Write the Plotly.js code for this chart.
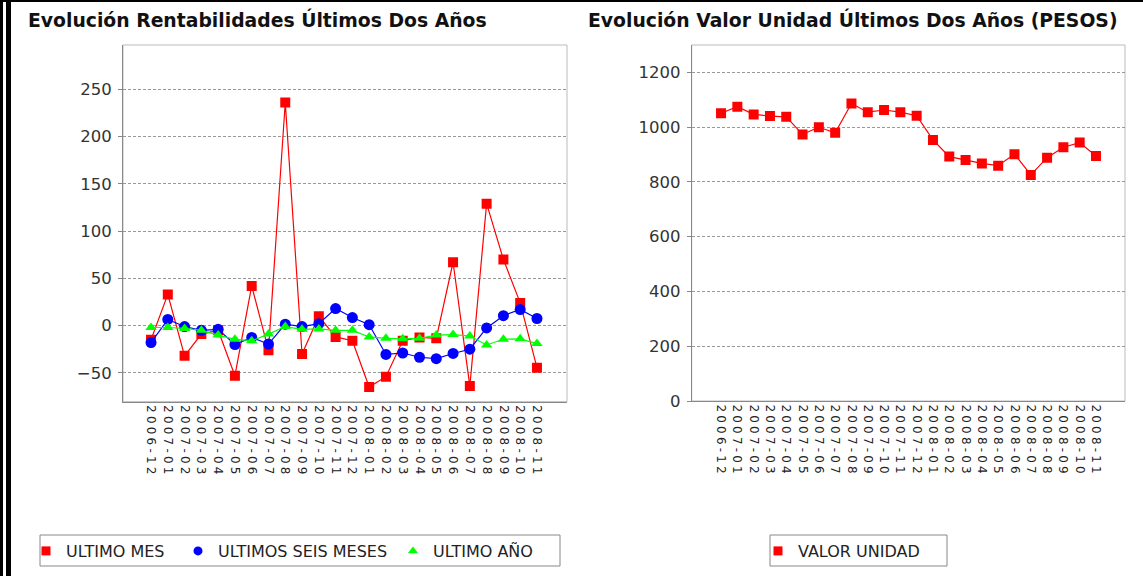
<!DOCTYPE html>
<html><head><meta charset="utf-8">
<script src="https://cdn.plot.ly/plotly-3.0.1.min.js"></script>
<style>
html,body{margin:0;padding:0;background:#fff;}
#wrap{position:relative;width:1143px;height:576px;overflow:hidden;background:#fff;}
#chart{position:absolute;left:0;top:0;width:1143px;height:576px;}
.bar{position:absolute;background:#000;}
</style>
</head><body>
<div id="wrap">
<div id="chart"></div>
<div class="bar" style="left:0;top:0;width:1143px;height:2px"></div>
<div class="bar" style="left:0;top:0;width:3px;height:576px"></div>
<div class="bar" style="left:6px;top:0;width:5px;height:576px"></div>
</div>
<script>
const months = ['2006-12','2007-01','2007-02','2007-03','2007-04','2007-05','2007-06','2007-07','2007-08','2007-09','2007-10','2007-11','2007-12','2008-01','2008-02','2008-03','2008-04','2008-05','2008-06','2008-07','2008-08','2008-09','2008-10','2008-11'];
const ultimoMes = [-15, 33, -32, -9, -5, -53, 42, -26, 236, -30, 10, -12, -16, -65, -54, -16, -12.5, -13.5, 67, -64, 129, 70, 24, -44.5];
const ultimosSeisMeses = [-18, 6.5, -1, -5, -4, -20, -12.5, -19.5, 1.5, -1, 2, 18, 8.5, 1, -30.5, -29, -33.5, -35, -29.5, -25, -2.5, 10.5, 17, 7.5];
const ultimoAno = [-2, -2, -3, -5, -10, -14.5, -16, -9, -1, -4, -3.5, -5, -5, -12, -13.5, -14, -13.5, -10, -9.5, -11, -20.5, -14.5, -14, -19];
const valorUnidad = [1050, 1074, 1046, 1040, 1037, 973, 999, 979, 1086, 1054, 1062, 1054, 1041, 953, 892, 880, 867, 859, 901, 825, 888, 926, 943, 894];
const leftTicks = [-50, 0, 50, 100, 150, 200, 250];
const rightTicks = [0, 200, 400, 600, 800, 1000, 1200];
const titleLeft = 'Evolución Rentabilidades Últimos Dos Años';
const titleRight = 'Evolución Valor Unidad Últimos Dos Años (PESOS)';
const namesLeft = ['ULTIMO MES', 'ULTIMOS SEIS MESES', 'ULTIMO AÑO'];
const nameRight = 'VALOR UNIDAD';

const W = 1143, H = 576;
const FONT = 'DejaVu Sans, Verdana, sans-serif';
const px = v => v / W, py = v => 1 - v / H;

const RED = '#ff0000', BLUE = '#0000ff', GREEN = '#00ff00';
function series(y, name, color, symbol, size, xa, ya, legend) {
  return [{
    x: months, y: y, type: 'scatter', mode: 'lines+markers', name: name,
    xaxis: xa, yaxis: ya, showlegend: false,
    line: {color: color, width: 1.2},
    marker: {color: color, symbol: symbol, size: size, line: {width: 0}}
  }, {
    x: [null], y: [null], type: 'scatter', mode: 'markers', name: name,
    xaxis: xa, yaxis: ya, showlegend: true, legend: legend,
    marker: {color: color, symbol: symbol, size: 9}
  }];
}
const traces = [].concat(
  series(ultimoMes, namesLeft[0], RED, 'square', 10, 'x', 'y', 'legend'),
  series(ultimosSeisMeses, namesLeft[1], BLUE, 'circle', 11, 'x', 'y', 'legend2'),
  series(ultimoAno, namesLeft[2], GREEN, 'triangle-up', 10, 'x', 'y', 'legend3'),
  series(valorUnidad, nameRight, RED, 'square', 10, 'x2', 'y2', 'legend4')
);

const topY = 45;
const xCommon = {
  type: 'category', showgrid: false, zeroline: false, showline: true,
  linecolor: '#888', linewidth: 1, ticks: '', tickangle: 90,
  tickfont: {family: FONT, size: 12, color: '#222'}, fixedrange: true
};
const yCommon = {
  showgrid: true, gridcolor: '#999', griddash: '3px,2px', gridwidth: 1,
  zeroline: false, showline: true, linecolor: '#888', linewidth: 1,
  ticks: 'outside', ticklen: 4, tickcolor: '#888', ticklabelstandoff: 3,
  tickfont: {family: FONT, size: 16.5, color: '#333'}, fixedrange: true
};
function leg(x) {
  return {orientation: 'h', x: px(x), y: py(551), xanchor: 'left', yanchor: 'middle',
    borderwidth: 0, bgcolor: 'rgba(0,0,0,0)',
    font: {family: FONT, size: 16, color: '#222'}, itemwidth: 30};
}

const layout = {
  width: W, height: H, margin: {l: 0, r: 0, t: 0, b: 0},
  paper_bgcolor: '#fff', plot_bgcolor: '#fff',
  font: {family: FONT, color: '#222'},
  xaxis: Object.assign({}, xCommon, {domain: [px(123), px(567)], range: [-1.67, 24.79], anchor: 'y'}),
  yaxis: Object.assign({}, yCommon, {domain: [py(401.7), py(topY)], range: [-80.5, 250 + (89.3 - topY) / 0.947], tickvals: leftTicks, anchor: 'x'}),
  xaxis2: Object.assign({}, xCommon, {domain: [px(691.7), px(1125)], range: [-1.8, 24.78], anchor: 'y2'}),
  yaxis2: Object.assign({}, yCommon, {domain: [py(401), py(topY)], range: [0, (401 - topY) / 0.274], tickvals: rightTicks, anchor: 'x2'}),
  shapes: [
    {type: 'rect', xref: 'x domain', yref: 'y domain', x0: 0, x1: 1, y0: 0, y1: 1, line: {color: '#bbb', width: 1}, layer: 'below'},
    {type: 'rect', xref: 'x2 domain', yref: 'y2 domain', x0: 0, x1: 1, y0: 0, y1: 1, line: {color: '#bbb', width: 1}, layer: 'below'},
    {type: 'rect', xref: 'paper', yref: 'paper', x0: px(40), x1: px(560), y0: py(566), y1: py(535), line: {color: '#888', width: 1}},
    {type: 'rect', xref: 'paper', yref: 'paper', x0: px(770), x1: px(947), y0: py(566), y1: py(535), line: {color: '#888', width: 1}}
  ],
  annotations: [
    {text: '<b>' + titleLeft + '</b>', xref: 'paper', yref: 'paper', x: px(26), y: py(20), xanchor: 'left', yanchor: 'middle', showarrow: false, font: {family: FONT, size: 18.8, color: '#111'}},
    {text: '<b>' + titleRight + '</b>', xref: 'paper', yref: 'paper', x: px(586), y: py(20), xanchor: 'left', yanchor: 'middle', showarrow: false, font: {family: FONT, size: 18.8, color: '#111'}}
  ],
  legend: leg(26),
  legend2: leg(178),
  legend3: leg(393),
  legend4: leg(758)
};

Plotly.newPlot('chart', traces, layout, {displayModeBar: false, staticPlot: true}).then(function () {
  document.querySelectorAll('g.xtick text, g.x2tick text').forEach(function (t) {
    t.style.letterSpacing = '3.2px';
  });
});
</script>
</body></html>
